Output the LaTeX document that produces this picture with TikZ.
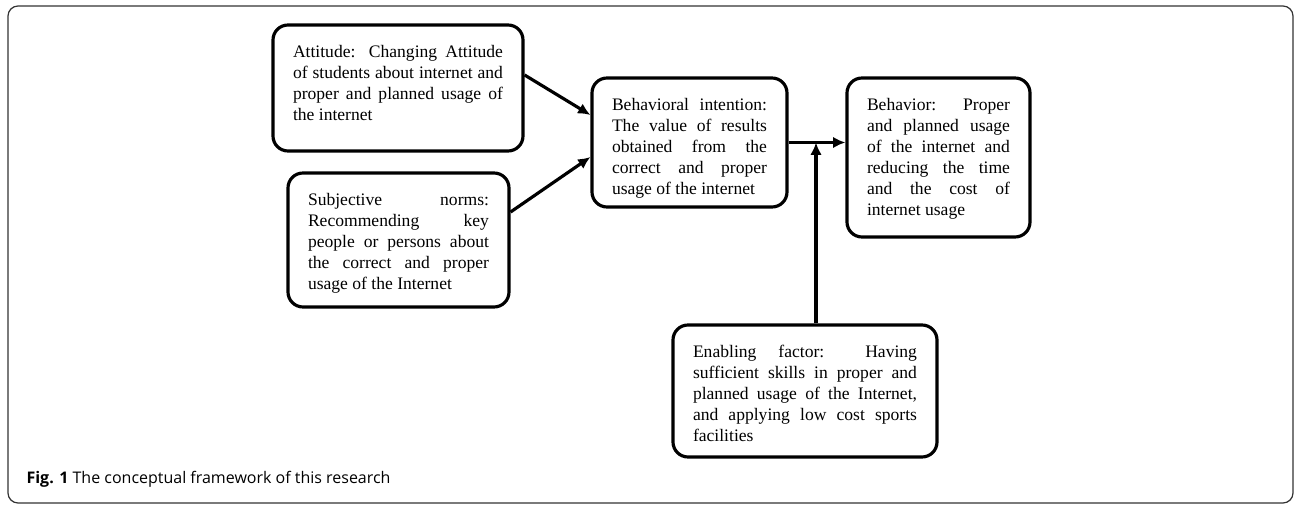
\documentclass[tikz,border=0pt]{standalone}
\usepackage{fontspec}
\setmainfont{Liberation Serif}
\newfontfamily\capfont{Open Sans}
\usetikzlibrary{arrows.meta}
\newcommand{\boxtext}[3]{\parbox[t][#2][t]{#1}{\hyphenpenalty=10000 #3}}

\begin{document}
\begin{tikzpicture}[x=0.2mm, y=-0.2mm, every node/.style={rectangle, rounded corners=0.3cm, draw=black, line width=1.8pt, inner sep=0.4cm, font=\fontsize{10}{12}\selectfont}, every path/.style={line width=1.8pt}, arr/.style={-{Latex[length=7pt, width=6.5pt]}}]
	\useasboundingbox (0,0) rectangle (1296,505);
	\draw[line width=0.7pt, draw=black!80, rounded corners=0.2cm] (8,6) rectangle (1293,503);
	
	\node (att) at (398,88){\boxtext{4.2cm}{1.72cm}{Attitude: Changing Attitude\linebreak of students about internet and\linebreak proper and planned usage of\linebreak the internet}};
	\node (subj) at (398.5,240){\boxtext{3.62cm}{1.88cm}{Subjective norms:\linebreak Recommending key\linebreak people or persons about\linebreak the correct and proper\linebreak usage of the Internet}};
	\node (bi) at (689.5,142.5){\boxtext{3.1cm}{1.78cm}{Behavioral intention:\linebreak The value of results\linebreak obtained from the\linebreak correct and proper\linebreak usage of the internet}};
	\node (beh) at (938.5,157.5){\boxtext{2.86cm}{2.38cm}{Behavior: Proper\linebreak and planned usage\linebreak of the internet and\linebreak reducing the time\linebreak and the cost of\linebreak internet usage}};
	\node (enab) at (805,391){\boxtext{4.48cm}{1.84cm}{Enabling factor: Having\linebreak sufficient skills in proper and\linebreak planned usage of the Internet,\linebreak and applying low cost sports\linebreak facilities}};
	\node[draw=none, rounded corners=0pt, inner sep=0pt, anchor=base west, font=\capfont\fontsize{9.1}{11}\selectfont] (cap) at (25,484){\textbf{Fig. 1} The conceptual framework of this research};
	
	\coordinate (jn) at ([xshift=0.22cm]enab.north |- bi.east);
	
	\path[arr] ([yshift=0.26cm]att.east) edge ([yshift=0.55cm]bi.west);
	\path[arr] ([yshift=0.56cm]subj.east) edge ([yshift=-0.29cm]bi.west);
	\path[arr] (bi.east) edge (bi.east -| beh.west);
	\path[arr] ([xshift=0.22cm]enab.north) edge (jn);
\end{tikzpicture}
\end{document}
